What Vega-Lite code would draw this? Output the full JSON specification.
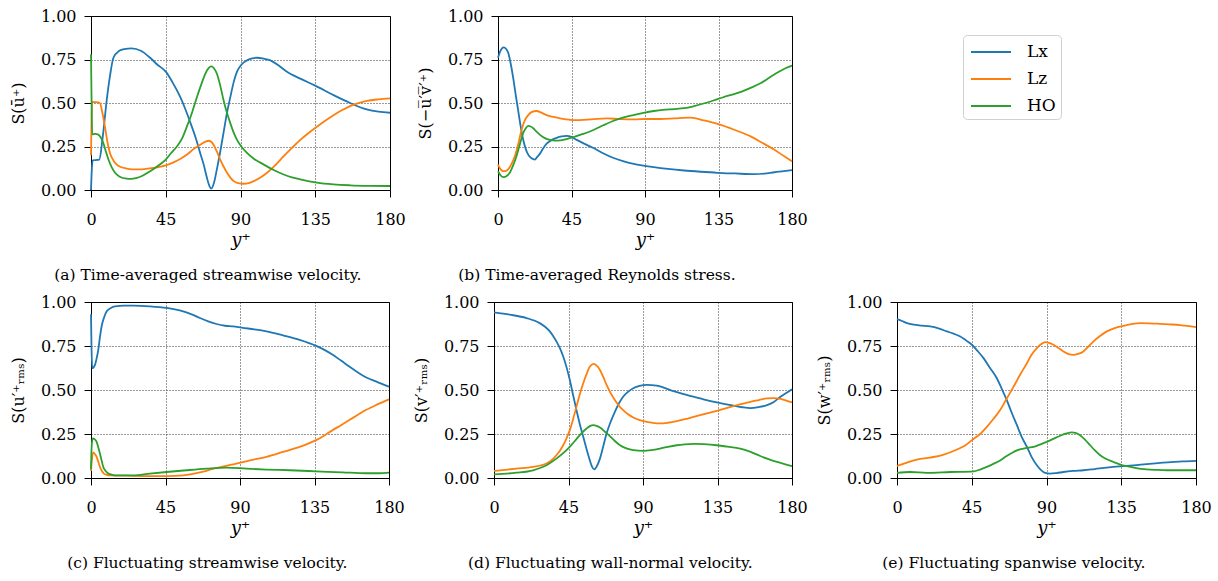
{
  "$schema": "https://vega.github.io/schema/vega-lite/v6.json",
  "padding": {"left": 9, "top": 7, "right": 5, "bottom": 5},
  "background": "white",
  "datasets": {
    "a": [
      {"x":0,"s":0,"m":"Lx"},{"x":0.5,"s":0.12,"m":"Lx"},{"x":1,"s":0.17,"m":"Lx"},{"x":3,"s":0.172,"m":"Lx"},{"x":5,"s":0.175,"m":"Lx"},{"x":7,"s":0.3,"m":"Lx"},{"x":9.5,"s":0.52,"m":"Lx"},{"x":11.5,"s":0.66,"m":"Lx"},{"x":13.5,"s":0.76,"m":"Lx"},{"x":17,"s":0.8,"m":"Lx"},{"x":20,"s":0.81,"m":"Lx"},{"x":24.5,"s":0.814,"m":"Lx"},{"x":30,"s":0.8,"m":"Lx"},{"x":35.6,"s":0.76,"m":"Lx"},{"x":40,"s":0.72,"m":"Lx"},{"x":45,"s":0.68,"m":"Lx"},{"x":49,"s":0.62,"m":"Lx"},{"x":53.7,"s":0.535,"m":"Lx"},{"x":57,"s":0.46,"m":"Lx"},{"x":59.7,"s":0.39,"m":"Lx"},{"x":63,"s":0.3,"m":"Lx"},{"x":65.8,"s":0.21,"m":"Lx"},{"x":68,"s":0.14,"m":"Lx"},{"x":69.8,"s":0.07,"m":"Lx"},{"x":71,"s":0.03,"m":"Lx"},{"x":72.4,"s":0.008,"m":"Lx"},{"x":74,"s":0.04,"m":"Lx"},{"x":75.8,"s":0.12,"m":"Lx"},{"x":77.8,"s":0.22,"m":"Lx"},{"x":79.8,"s":0.33,"m":"Lx"},{"x":81.8,"s":0.44,"m":"Lx"},{"x":83.9,"s":0.535,"m":"Lx"},{"x":85.9,"s":0.62,"m":"Lx"},{"x":87.9,"s":0.68,"m":"Lx"},{"x":90.5,"s":0.72,"m":"Lx"},{"x":93.9,"s":0.745,"m":"Lx"},{"x":97,"s":0.757,"m":"Lx"},{"x":100,"s":0.76,"m":"Lx"},{"x":104,"s":0.755,"m":"Lx"},{"x":108,"s":0.745,"m":"Lx"},{"x":113,"s":0.715,"m":"Lx"},{"x":118,"s":0.68,"m":"Lx"},{"x":126,"s":0.64,"m":"Lx"},{"x":135,"s":0.6,"m":"Lx"},{"x":146,"s":0.545,"m":"Lx"},{"x":156,"s":0.5,"m":"Lx"},{"x":166,"s":0.463,"m":"Lx"},{"x":173,"s":0.45,"m":"Lx"},{"x":180,"s":0.444,"m":"Lx"},
      {"x":0,"s":0.2,"m":"Lz"},{"x":0.3,"s":0.4,"m":"Lz"},{"x":0.6,"s":0.505,"m":"Lz"},{"x":3,"s":0.505,"m":"Lz"},{"x":5.4,"s":0.5,"m":"Lz"},{"x":6.5,"s":0.46,"m":"Lz"},{"x":8.4,"s":0.364,"m":"Lz"},{"x":10,"s":0.27,"m":"Lz"},{"x":11.5,"s":0.21,"m":"Lz"},{"x":13.5,"s":0.17,"m":"Lz"},{"x":15.5,"s":0.146,"m":"Lz"},{"x":18,"s":0.132,"m":"Lz"},{"x":21.5,"s":0.123,"m":"Lz"},{"x":25,"s":0.119,"m":"Lz"},{"x":29.6,"s":0.118,"m":"Lz"},{"x":33,"s":0.121,"m":"Lz"},{"x":37.6,"s":0.127,"m":"Lz"},{"x":45,"s":0.142,"m":"Lz"},{"x":50,"s":0.16,"m":"Lz"},{"x":53.7,"s":0.178,"m":"Lz"},{"x":58,"s":0.205,"m":"Lz"},{"x":61.7,"s":0.235,"m":"Lz"},{"x":66,"s":0.262,"m":"Lz"},{"x":69,"s":0.278,"m":"Lz"},{"x":70.8,"s":0.283,"m":"Lz"},{"x":72.3,"s":0.277,"m":"Lz"},{"x":73.8,"s":0.26,"m":"Lz"},{"x":75.8,"s":0.22,"m":"Lz"},{"x":77.8,"s":0.175,"m":"Lz"},{"x":79.8,"s":0.135,"m":"Lz"},{"x":81.9,"s":0.099,"m":"Lz"},{"x":84,"s":0.07,"m":"Lz"},{"x":85.9,"s":0.051,"m":"Lz"},{"x":88.5,"s":0.04,"m":"Lz"},{"x":91.9,"s":0.036,"m":"Lz"},{"x":95,"s":0.04,"m":"Lz"},{"x":98,"s":0.051,"m":"Lz"},{"x":102,"s":0.072,"m":"Lz"},{"x":106,"s":0.099,"m":"Lz"},{"x":111,"s":0.143,"m":"Lz"},{"x":116,"s":0.194,"m":"Lz"},{"x":121,"s":0.242,"m":"Lz"},{"x":126,"s":0.288,"m":"Lz"},{"x":131,"s":0.328,"m":"Lz"},{"x":136,"s":0.364,"m":"Lz"},{"x":141,"s":0.398,"m":"Lz"},{"x":146,"s":0.43,"m":"Lz"},{"x":151,"s":0.458,"m":"Lz"},{"x":156,"s":0.482,"m":"Lz"},{"x":161,"s":0.499,"m":"Lz"},{"x":166,"s":0.512,"m":"Lz"},{"x":173,"s":0.521,"m":"Lz"},{"x":180,"s":0.526,"m":"Lz"},
      {"x":0,"s":0.78,"m":"HO"},{"x":0.3,"s":0.55,"m":"HO"},{"x":0.7,"s":0.32,"m":"HO"},{"x":2.5,"s":0.322,"m":"HO"},{"x":4.4,"s":0.318,"m":"HO"},{"x":6,"s":0.3,"m":"HO"},{"x":7.4,"s":0.27,"m":"HO"},{"x":9,"s":0.22,"m":"HO"},{"x":10.5,"s":0.175,"m":"HO"},{"x":12.5,"s":0.13,"m":"HO"},{"x":14.5,"s":0.099,"m":"HO"},{"x":17,"s":0.078,"m":"HO"},{"x":21.5,"s":0.065,"m":"HO"},{"x":24,"s":0.064,"m":"HO"},{"x":27.6,"s":0.07,"m":"HO"},{"x":31,"s":0.082,"m":"HO"},{"x":35.6,"s":0.108,"m":"HO"},{"x":40,"s":0.137,"m":"HO"},{"x":45,"s":0.175,"m":"HO"},{"x":48,"s":0.21,"m":"HO"},{"x":51.7,"s":0.25,"m":"HO"},{"x":55,"s":0.3,"m":"HO"},{"x":57.7,"s":0.364,"m":"HO"},{"x":61,"s":0.45,"m":"HO"},{"x":63.8,"s":0.535,"m":"HO"},{"x":66.5,"s":0.61,"m":"HO"},{"x":68.8,"s":0.668,"m":"HO"},{"x":70.8,"s":0.7,"m":"HO"},{"x":72.4,"s":0.71,"m":"HO"},{"x":74,"s":0.7,"m":"HO"},{"x":75.8,"s":0.668,"m":"HO"},{"x":77.8,"s":0.6,"m":"HO"},{"x":79.8,"s":0.516,"m":"HO"},{"x":81.8,"s":0.445,"m":"HO"},{"x":83.9,"s":0.383,"m":"HO"},{"x":85.9,"s":0.33,"m":"HO"},{"x":87.9,"s":0.288,"m":"HO"},{"x":90.5,"s":0.25,"m":"HO"},{"x":93.9,"s":0.213,"m":"HO"},{"x":98,"s":0.18,"m":"HO"},{"x":104,"s":0.146,"m":"HO"},{"x":110,"s":0.115,"m":"HO"},{"x":116,"s":0.089,"m":"HO"},{"x":121,"s":0.073,"m":"HO"},{"x":126,"s":0.061,"m":"HO"},{"x":136,"s":0.042,"m":"HO"},{"x":146,"s":0.032,"m":"HO"},{"x":156,"s":0.027,"m":"HO"},{"x":168,"s":0.024,"m":"HO"},{"x":180,"s":0.023,"m":"HO"}
    ],
    "b": [
      {"x":0,"s":0.76,"m":"Lx"},{"x":1.5,"s":0.8,"m":"Lx"},{"x":3.5,"s":0.82,"m":"Lx"},{"x":5,"s":0.81,"m":"Lx"},{"x":6.2,"s":0.79,"m":"Lx"},{"x":7.7,"s":0.73,"m":"Lx"},{"x":9.2,"s":0.65,"m":"Lx"},{"x":10.8,"s":0.55,"m":"Lx"},{"x":12.3,"s":0.46,"m":"Lx"},{"x":13.8,"s":0.37,"m":"Lx"},{"x":15.4,"s":0.29,"m":"Lx"},{"x":17,"s":0.235,"m":"Lx"},{"x":18.5,"s":0.203,"m":"Lx"},{"x":20.5,"s":0.182,"m":"Lx"},{"x":22.6,"s":0.175,"m":"Lx"},{"x":24,"s":0.19,"m":"Lx"},{"x":25.7,"s":0.209,"m":"Lx"},{"x":27.7,"s":0.24,"m":"Lx"},{"x":29.8,"s":0.266,"m":"Lx"},{"x":33,"s":0.288,"m":"Lx"},{"x":35.9,"s":0.3,"m":"Lx"},{"x":39,"s":0.308,"m":"Lx"},{"x":42,"s":0.311,"m":"Lx"},{"x":45,"s":0.305,"m":"Lx"},{"x":48.2,"s":0.288,"m":"Lx"},{"x":53,"s":0.265,"m":"Lx"},{"x":58.5,"s":0.241,"m":"Lx"},{"x":64,"s":0.213,"m":"Lx"},{"x":70.8,"s":0.184,"m":"Lx"},{"x":77,"s":0.165,"m":"Lx"},{"x":83.1,"s":0.15,"m":"Lx"},{"x":89,"s":0.14,"m":"Lx"},{"x":95.4,"s":0.131,"m":"Lx"},{"x":104,"s":0.121,"m":"Lx"},{"x":113.9,"s":0.112,"m":"Lx"},{"x":124,"s":0.105,"m":"Lx"},{"x":134.4,"s":0.099,"m":"Lx"},{"x":145,"s":0.095,"m":"Lx"},{"x":157,"s":0.091,"m":"Lx"},{"x":163,"s":0.094,"m":"Lx"},{"x":169.3,"s":0.102,"m":"Lx"},{"x":175,"s":0.108,"m":"Lx"},{"x":180,"s":0.114,"m":"Lx"},
      {"x":0,"s":0.146,"m":"Lz"},{"x":1.5,"s":0.12,"m":"Lz"},{"x":3.1,"s":0.108,"m":"Lz"},{"x":4.5,"s":0.108,"m":"Lz"},{"x":6.2,"s":0.118,"m":"Lz"},{"x":8.3,"s":0.15,"m":"Lz"},{"x":10.3,"s":0.194,"m":"Lz"},{"x":12.3,"s":0.26,"m":"Lz"},{"x":14.4,"s":0.345,"m":"Lz"},{"x":16.4,"s":0.4,"m":"Lz"},{"x":18.5,"s":0.43,"m":"Lz"},{"x":20.5,"s":0.448,"m":"Lz"},{"x":23.6,"s":0.454,"m":"Lz"},{"x":26.5,"s":0.445,"m":"Lz"},{"x":29.8,"s":0.43,"m":"Lz"},{"x":34,"s":0.42,"m":"Lz"},{"x":38,"s":0.412,"m":"Lz"},{"x":43,"s":0.405,"m":"Lz"},{"x":48.2,"s":0.402,"m":"Lz"},{"x":57,"s":0.406,"m":"Lz"},{"x":66.7,"s":0.412,"m":"Lz"},{"x":75,"s":0.407,"m":"Lz"},{"x":83.1,"s":0.406,"m":"Lz"},{"x":91,"s":0.408,"m":"Lz"},{"x":99.5,"s":0.408,"m":"Lz"},{"x":108,"s":0.412,"m":"Lz"},{"x":118,"s":0.416,"m":"Lz"},{"x":126,"s":0.4,"m":"Lz"},{"x":134.4,"s":0.38,"m":"Lz"},{"x":145,"s":0.345,"m":"Lz"},{"x":155,"s":0.307,"m":"Lz"},{"x":162,"s":0.27,"m":"Lz"},{"x":169.3,"s":0.231,"m":"Lz"},{"x":175,"s":0.195,"m":"Lz"},{"x":180,"s":0.165,"m":"Lz"},
      {"x":0,"s":0.108,"m":"HO"},{"x":1.5,"s":0.085,"m":"HO"},{"x":3.5,"s":0.074,"m":"HO"},{"x":5.3,"s":0.08,"m":"HO"},{"x":7.2,"s":0.099,"m":"HO"},{"x":9.2,"s":0.14,"m":"HO"},{"x":11.3,"s":0.194,"m":"HO"},{"x":13.3,"s":0.26,"m":"HO"},{"x":15.4,"s":0.326,"m":"HO"},{"x":17,"s":0.355,"m":"HO"},{"x":18.5,"s":0.368,"m":"HO"},{"x":20,"s":0.365,"m":"HO"},{"x":21.6,"s":0.355,"m":"HO"},{"x":23.6,"s":0.335,"m":"HO"},{"x":25.7,"s":0.317,"m":"HO"},{"x":28.7,"s":0.298,"m":"HO"},{"x":31.8,"s":0.288,"m":"HO"},{"x":35,"s":0.284,"m":"HO"},{"x":38,"s":0.285,"m":"HO"},{"x":42,"s":0.293,"m":"HO"},{"x":46.2,"s":0.304,"m":"HO"},{"x":52,"s":0.322,"m":"HO"},{"x":58.5,"s":0.345,"m":"HO"},{"x":64.5,"s":0.372,"m":"HO"},{"x":70.8,"s":0.398,"m":"HO"},{"x":77,"s":0.418,"m":"HO"},{"x":83.1,"s":0.431,"m":"HO"},{"x":89,"s":0.443,"m":"HO"},{"x":95.4,"s":0.454,"m":"HO"},{"x":101,"s":0.461,"m":"HO"},{"x":107.8,"s":0.465,"m":"HO"},{"x":114,"s":0.47,"m":"HO"},{"x":120,"s":0.482,"m":"HO"},{"x":127,"s":0.5,"m":"HO"},{"x":134.4,"s":0.522,"m":"HO"},{"x":141,"s":0.542,"m":"HO"},{"x":148.8,"s":0.564,"m":"HO"},{"x":155,"s":0.588,"m":"HO"},{"x":161,"s":0.615,"m":"HO"},{"x":166,"s":0.645,"m":"HO"},{"x":171.4,"s":0.677,"m":"HO"},{"x":176,"s":0.7,"m":"HO"},{"x":180,"s":0.715,"m":"HO"}
    ],
    "c": [
      {"x":0,"s":0.93,"m":"Lx"},{"x":0.3,"s":0.75,"m":"Lx"},{"x":0.7,"s":0.624,"m":"Lx"},{"x":2.4,"s":0.643,"m":"Lx"},{"x":3.4,"s":0.68,"m":"Lx"},{"x":4.4,"s":0.728,"m":"Lx"},{"x":5.4,"s":0.8,"m":"Lx"},{"x":6.4,"s":0.861,"m":"Lx"},{"x":8,"s":0.915,"m":"Lx"},{"x":9.5,"s":0.947,"m":"Lx"},{"x":12,"s":0.966,"m":"Lx"},{"x":14.5,"s":0.975,"m":"Lx"},{"x":20,"s":0.979,"m":"Lx"},{"x":25.5,"s":0.979,"m":"Lx"},{"x":35.6,"s":0.975,"m":"Lx"},{"x":45.7,"s":0.966,"m":"Lx"},{"x":50.7,"s":0.958,"m":"Lx"},{"x":55.7,"s":0.947,"m":"Lx"},{"x":60.8,"s":0.93,"m":"Lx"},{"x":65.8,"s":0.909,"m":"Lx"},{"x":70.8,"s":0.89,"m":"Lx"},{"x":75.8,"s":0.875,"m":"Lx"},{"x":80.9,"s":0.865,"m":"Lx"},{"x":85.9,"s":0.861,"m":"Lx"},{"x":91,"s":0.855,"m":"Lx"},{"x":96,"s":0.848,"m":"Lx"},{"x":106,"s":0.833,"m":"Lx"},{"x":116,"s":0.81,"m":"Lx"},{"x":126,"s":0.785,"m":"Lx"},{"x":136,"s":0.751,"m":"Lx"},{"x":141,"s":0.728,"m":"Lx"},{"x":146,"s":0.7,"m":"Lx"},{"x":151,"s":0.667,"m":"Lx"},{"x":156,"s":0.633,"m":"Lx"},{"x":161,"s":0.601,"m":"Lx"},{"x":166,"s":0.572,"m":"Lx"},{"x":173,"s":0.545,"m":"Lx"},{"x":180,"s":0.519,"m":"Lx"},
      {"x":0,"s":0.04,"m":"Lz"},{"x":0.5,"s":0.1,"m":"Lz"},{"x":1.5,"s":0.145,"m":"Lz"},{"x":2.4,"s":0.135,"m":"Lz"},{"x":3.4,"s":0.12,"m":"Lz"},{"x":4.4,"s":0.092,"m":"Lz"},{"x":5.4,"s":0.063,"m":"Lz"},{"x":6.6,"s":0.04,"m":"Lz"},{"x":7.8,"s":0.025,"m":"Lz"},{"x":9.5,"s":0.018,"m":"Lz"},{"x":11.5,"s":0.015,"m":"Lz"},{"x":21.5,"s":0.013,"m":"Lz"},{"x":35.6,"s":0.011,"m":"Lz"},{"x":45.7,"s":0.011,"m":"Lz"},{"x":55.7,"s":0.015,"m":"Lz"},{"x":60.8,"s":0.022,"m":"Lz"},{"x":65.8,"s":0.032,"m":"Lz"},{"x":70.8,"s":0.044,"m":"Lz"},{"x":75.8,"s":0.057,"m":"Lz"},{"x":80.9,"s":0.068,"m":"Lz"},{"x":85.9,"s":0.078,"m":"Lz"},{"x":91,"s":0.089,"m":"Lz"},{"x":96,"s":0.1,"m":"Lz"},{"x":106,"s":0.12,"m":"Lz"},{"x":116,"s":0.148,"m":"Lz"},{"x":126,"s":0.177,"m":"Lz"},{"x":136,"s":0.215,"m":"Lz"},{"x":141,"s":0.242,"m":"Lz"},{"x":146,"s":0.272,"m":"Lz"},{"x":151,"s":0.3,"m":"Lz"},{"x":156,"s":0.329,"m":"Lz"},{"x":161,"s":0.358,"m":"Lz"},{"x":166,"s":0.386,"m":"Lz"},{"x":173,"s":0.418,"m":"Lz"},{"x":180,"s":0.447,"m":"Lz"},
      {"x":0,"s":0.05,"m":"HO"},{"x":0.4,"s":0.18,"m":"HO"},{"x":1,"s":0.225,"m":"HO"},{"x":2.2,"s":0.22,"m":"HO"},{"x":3.4,"s":0.205,"m":"HO"},{"x":4.4,"s":0.175,"m":"HO"},{"x":5.4,"s":0.139,"m":"HO"},{"x":6.4,"s":0.1,"m":"HO"},{"x":7.4,"s":0.063,"m":"HO"},{"x":9,"s":0.038,"m":"HO"},{"x":10.5,"s":0.025,"m":"HO"},{"x":13,"s":0.018,"m":"HO"},{"x":15.5,"s":0.015,"m":"HO"},{"x":25.5,"s":0.015,"m":"HO"},{"x":35.6,"s":0.025,"m":"HO"},{"x":45.7,"s":0.034,"m":"HO"},{"x":57.7,"s":0.044,"m":"HO"},{"x":69.8,"s":0.053,"m":"HO"},{"x":81.9,"s":0.059,"m":"HO"},{"x":93.9,"s":0.053,"m":"HO"},{"x":106,"s":0.048,"m":"HO"},{"x":120,"s":0.044,"m":"HO"},{"x":136,"s":0.038,"m":"HO"},{"x":152,"s":0.032,"m":"HO"},{"x":166,"s":0.027,"m":"HO"},{"x":174,"s":0.027,"m":"HO"},{"x":180,"s":0.03,"m":"HO"}
    ],
    "d": [
      {"x":0,"s":0.941,"m":"Lx"},{"x":9.5,"s":0.928,"m":"Lx"},{"x":19.6,"s":0.909,"m":"Lx"},{"x":27.6,"s":0.88,"m":"Lx"},{"x":31,"s":0.858,"m":"Lx"},{"x":33.7,"s":0.833,"m":"Lx"},{"x":35.8,"s":0.806,"m":"Lx"},{"x":37.7,"s":0.776,"m":"Lx"},{"x":39.8,"s":0.738,"m":"Lx"},{"x":41.8,"s":0.69,"m":"Lx"},{"x":43.8,"s":0.63,"m":"Lx"},{"x":45.8,"s":0.557,"m":"Lx"},{"x":47.8,"s":0.47,"m":"Lx"},{"x":49.8,"s":0.386,"m":"Lx"},{"x":51.8,"s":0.307,"m":"Lx"},{"x":53.9,"s":0.234,"m":"Lx"},{"x":55.9,"s":0.165,"m":"Lx"},{"x":57.9,"s":0.1,"m":"Lx"},{"x":59.2,"s":0.065,"m":"Lx"},{"x":60.5,"s":0.049,"m":"Lx"},{"x":62,"s":0.065,"m":"Lx"},{"x":64,"s":0.11,"m":"Lx"},{"x":66,"s":0.18,"m":"Lx"},{"x":68,"s":0.253,"m":"Lx"},{"x":70.5,"s":0.32,"m":"Lx"},{"x":73,"s":0.376,"m":"Lx"},{"x":75.5,"s":0.425,"m":"Lx"},{"x":78,"s":0.462,"m":"Lx"},{"x":81,"s":0.49,"m":"Lx"},{"x":84.1,"s":0.51,"m":"Lx"},{"x":88,"s":0.524,"m":"Lx"},{"x":92.2,"s":0.529,"m":"Lx"},{"x":98.3,"s":0.525,"m":"Lx"},{"x":103,"s":0.512,"m":"Lx"},{"x":108.4,"s":0.494,"m":"Lx"},{"x":114,"s":0.478,"m":"Lx"},{"x":120.5,"s":0.462,"m":"Lx"},{"x":127,"s":0.446,"m":"Lx"},{"x":134.6,"s":0.43,"m":"Lx"},{"x":144.7,"s":0.411,"m":"Lx"},{"x":150,"s":0.402,"m":"Lx"},{"x":154.8,"s":0.397,"m":"Lx"},{"x":160,"s":0.403,"m":"Lx"},{"x":164.9,"s":0.414,"m":"Lx"},{"x":169,"s":0.432,"m":"Lx"},{"x":173,"s":0.462,"m":"Lx"},{"x":176.5,"s":0.483,"m":"Lx"},{"x":180,"s":0.504,"m":"Lx"},
      {"x":0,"s":0.04,"m":"Lz"},{"x":13.5,"s":0.053,"m":"Lz"},{"x":23.6,"s":0.063,"m":"Lz"},{"x":31.7,"s":0.082,"m":"Lz"},{"x":35,"s":0.102,"m":"Lz"},{"x":37.7,"s":0.129,"m":"Lz"},{"x":39.8,"s":0.155,"m":"Lz"},{"x":41.8,"s":0.186,"m":"Lz"},{"x":43.8,"s":0.225,"m":"Lz"},{"x":45.8,"s":0.272,"m":"Lz"},{"x":47.8,"s":0.335,"m":"Lz"},{"x":49.8,"s":0.405,"m":"Lz"},{"x":51.8,"s":0.475,"m":"Lz"},{"x":53.9,"s":0.538,"m":"Lz"},{"x":55.9,"s":0.59,"m":"Lz"},{"x":57.9,"s":0.633,"m":"Lz"},{"x":59.2,"s":0.645,"m":"Lz"},{"x":60.5,"s":0.648,"m":"Lz"},{"x":62,"s":0.638,"m":"Lz"},{"x":64,"s":0.614,"m":"Lz"},{"x":66,"s":0.574,"m":"Lz"},{"x":68,"s":0.529,"m":"Lz"},{"x":70.5,"s":0.482,"m":"Lz"},{"x":73,"s":0.443,"m":"Lz"},{"x":75.5,"s":0.41,"m":"Lz"},{"x":78,"s":0.386,"m":"Lz"},{"x":81,"s":0.362,"m":"Lz"},{"x":84.1,"s":0.344,"m":"Lz"},{"x":88,"s":0.329,"m":"Lz"},{"x":92.2,"s":0.319,"m":"Lz"},{"x":96,"s":0.313,"m":"Lz"},{"x":100.3,"s":0.31,"m":"Lz"},{"x":105,"s":0.314,"m":"Lz"},{"x":110.4,"s":0.323,"m":"Lz"},{"x":117,"s":0.338,"m":"Lz"},{"x":124.5,"s":0.357,"m":"Lz"},{"x":134.6,"s":0.382,"m":"Lz"},{"x":144.7,"s":0.409,"m":"Lz"},{"x":154.8,"s":0.433,"m":"Lz"},{"x":160,"s":0.443,"m":"Lz"},{"x":164.9,"s":0.452,"m":"Lz"},{"x":169,"s":0.454,"m":"Lz"},{"x":173,"s":0.449,"m":"Lz"},{"x":176.5,"s":0.44,"m":"Lz"},{"x":180,"s":0.43,"m":"Lz"},
      {"x":0,"s":0.021,"m":"HO"},{"x":13.5,"s":0.03,"m":"HO"},{"x":23.6,"s":0.044,"m":"HO"},{"x":31.7,"s":0.072,"m":"HO"},{"x":37.7,"s":0.11,"m":"HO"},{"x":43.8,"s":0.158,"m":"HO"},{"x":46.8,"s":0.188,"m":"HO"},{"x":49.8,"s":0.221,"m":"HO"},{"x":52.8,"s":0.253,"m":"HO"},{"x":55.9,"s":0.281,"m":"HO"},{"x":57.9,"s":0.295,"m":"HO"},{"x":59.9,"s":0.3,"m":"HO"},{"x":62,"s":0.296,"m":"HO"},{"x":64,"s":0.287,"m":"HO"},{"x":67,"s":0.263,"m":"HO"},{"x":70,"s":0.238,"m":"HO"},{"x":73,"s":0.21,"m":"HO"},{"x":76.1,"s":0.186,"m":"HO"},{"x":80,"s":0.168,"m":"HO"},{"x":84.1,"s":0.158,"m":"HO"},{"x":90.2,"s":0.154,"m":"HO"},{"x":95,"s":0.158,"m":"HO"},{"x":100.3,"s":0.167,"m":"HO"},{"x":105,"s":0.177,"m":"HO"},{"x":110.4,"s":0.186,"m":"HO"},{"x":115,"s":0.191,"m":"HO"},{"x":120.5,"s":0.194,"m":"HO"},{"x":127,"s":0.192,"m":"HO"},{"x":134.6,"s":0.186,"m":"HO"},{"x":141,"s":0.178,"m":"HO"},{"x":148.7,"s":0.167,"m":"HO"},{"x":155,"s":0.148,"m":"HO"},{"x":160.8,"s":0.125,"m":"HO"},{"x":165,"s":0.11,"m":"HO"},{"x":170.9,"s":0.091,"m":"HO"},{"x":175,"s":0.08,"m":"HO"},{"x":180,"s":0.068,"m":"HO"}
    ],
    "e": [
      {"x":0,"s":0.903,"m":"Lx"},{"x":3,"s":0.892,"m":"Lx"},{"x":6,"s":0.88,"m":"Lx"},{"x":10,"s":0.871,"m":"Lx"},{"x":15,"s":0.866,"m":"Lx"},{"x":20,"s":0.861,"m":"Lx"},{"x":25,"s":0.85,"m":"Lx"},{"x":30,"s":0.833,"m":"Lx"},{"x":34,"s":0.82,"m":"Lx"},{"x":38.1,"s":0.804,"m":"Lx"},{"x":41.5,"s":0.782,"m":"Lx"},{"x":45.1,"s":0.757,"m":"Lx"},{"x":48.5,"s":0.722,"m":"Lx"},{"x":52.1,"s":0.681,"m":"Lx"},{"x":56,"s":0.625,"m":"Lx"},{"x":60.1,"s":0.567,"m":"Lx"},{"x":63,"s":0.508,"m":"Lx"},{"x":66.1,"s":0.443,"m":"Lx"},{"x":69,"s":0.372,"m":"Lx"},{"x":72.2,"s":0.3,"m":"Lx"},{"x":75,"s":0.235,"m":"Lx"},{"x":78.2,"s":0.177,"m":"Lx"},{"x":81,"s":0.12,"m":"Lx"},{"x":84.2,"s":0.072,"m":"Lx"},{"x":86.7,"s":0.045,"m":"Lx"},{"x":89.2,"s":0.029,"m":"Lx"},{"x":92.2,"s":0.025,"m":"Lx"},{"x":96,"s":0.028,"m":"Lx"},{"x":100.2,"s":0.034,"m":"Lx"},{"x":106,"s":0.04,"m":"Lx"},{"x":112.2,"s":0.044,"m":"Lx"},{"x":119,"s":0.051,"m":"Lx"},{"x":126.3,"s":0.059,"m":"Lx"},{"x":134,"s":0.066,"m":"Lx"},{"x":142.3,"s":0.072,"m":"Lx"},{"x":150,"s":0.079,"m":"Lx"},{"x":158.3,"s":0.086,"m":"Lx"},{"x":165,"s":0.09,"m":"Lx"},{"x":172,"s":0.094,"m":"Lx"},{"x":180,"s":0.097,"m":"Lx"},
      {"x":0,"s":0.068,"m":"Lz"},{"x":6,"s":0.087,"m":"Lz"},{"x":12,"s":0.105,"m":"Lz"},{"x":20,"s":0.116,"m":"Lz"},{"x":28.1,"s":0.133,"m":"Lz"},{"x":36.1,"s":0.162,"m":"Lz"},{"x":41,"s":0.185,"m":"Lz"},{"x":45.1,"s":0.215,"m":"Lz"},{"x":50,"s":0.25,"m":"Lz"},{"x":54.1,"s":0.291,"m":"Lz"},{"x":58,"s":0.335,"m":"Lz"},{"x":62.1,"s":0.386,"m":"Lz"},{"x":66,"s":0.45,"m":"Lz"},{"x":70.2,"s":0.519,"m":"Lz"},{"x":74,"s":0.585,"m":"Lz"},{"x":78.2,"s":0.652,"m":"Lz"},{"x":81,"s":0.7,"m":"Lz"},{"x":84.2,"s":0.738,"m":"Lz"},{"x":86.7,"s":0.76,"m":"Lz"},{"x":89.2,"s":0.772,"m":"Lz"},{"x":91.5,"s":0.768,"m":"Lz"},{"x":94.2,"s":0.757,"m":"Lz"},{"x":97,"s":0.74,"m":"Lz"},{"x":100.2,"s":0.719,"m":"Lz"},{"x":103,"s":0.705,"m":"Lz"},{"x":106.2,"s":0.7,"m":"Lz"},{"x":109,"s":0.705,"m":"Lz"},{"x":112.2,"s":0.719,"m":"Lz"},{"x":115,"s":0.745,"m":"Lz"},{"x":118.3,"s":0.776,"m":"Lz"},{"x":122,"s":0.805,"m":"Lz"},{"x":126.3,"s":0.833,"m":"Lz"},{"x":131,"s":0.852,"m":"Lz"},{"x":136.3,"s":0.865,"m":"Lz"},{"x":141,"s":0.874,"m":"Lz"},{"x":146.3,"s":0.88,"m":"Lz"},{"x":152,"s":0.879,"m":"Lz"},{"x":158.3,"s":0.876,"m":"Lz"},{"x":164,"s":0.873,"m":"Lz"},{"x":170.4,"s":0.869,"m":"Lz"},{"x":175,"s":0.864,"m":"Lz"},{"x":180,"s":0.857,"m":"Lz"},
      {"x":0,"s":0.029,"m":"HO"},{"x":8,"s":0.034,"m":"HO"},{"x":18,"s":0.029,"m":"HO"},{"x":32.1,"s":0.034,"m":"HO"},{"x":46.1,"s":0.038,"m":"HO"},{"x":50,"s":0.048,"m":"HO"},{"x":54.1,"s":0.063,"m":"HO"},{"x":58,"s":0.08,"m":"HO"},{"x":62.1,"s":0.1,"m":"HO"},{"x":66,"s":0.125,"m":"HO"},{"x":70.2,"s":0.148,"m":"HO"},{"x":73,"s":0.16,"m":"HO"},{"x":76.2,"s":0.167,"m":"HO"},{"x":79,"s":0.172,"m":"HO"},{"x":82.2,"s":0.177,"m":"HO"},{"x":86,"s":0.19,"m":"HO"},{"x":90.2,"s":0.205,"m":"HO"},{"x":94,"s":0.222,"m":"HO"},{"x":98.2,"s":0.24,"m":"HO"},{"x":102,"s":0.253,"m":"HO"},{"x":105.2,"s":0.259,"m":"HO"},{"x":107.5,"s":0.256,"m":"HO"},{"x":110.2,"s":0.243,"m":"HO"},{"x":113,"s":0.22,"m":"HO"},{"x":116.3,"s":0.186,"m":"HO"},{"x":119,"s":0.158,"m":"HO"},{"x":122.3,"s":0.129,"m":"HO"},{"x":126,"s":0.108,"m":"HO"},{"x":130.3,"s":0.091,"m":"HO"},{"x":134,"s":0.078,"m":"HO"},{"x":138.3,"s":0.067,"m":"HO"},{"x":144,"s":0.056,"m":"HO"},{"x":150.3,"s":0.049,"m":"HO"},{"x":156,"s":0.046,"m":"HO"},{"x":162.4,"s":0.044,"m":"HO"},{"x":170,"s":0.044,"m":"HO"},{"x":180,"s":0.044,"m":"HO"}
    ]
  },
  "vconcat": [
    {
      "hconcat": [
        {
          "width": 299, "height": 174,
          "data": {"name": "a"},
          "title": {"text": "(a) Time-averaged streamwise velocity.", "fontSize": 15.5, "offset": 19, "frame": "bounds"},
          "mark": {"type": "line", "interpolate": "monotone", "strokeWidth": 1.8},
          "encoding": {
            "x": {"field": "x", "type": "quantitative", "scale": {"domain": [0, 180], "nice": false}, "axis": {"values": [0, 45, 90, 135, 180], "title": "y⁺"}},
            "y": {"field": "s", "type": "quantitative", "scale": {"domain": [0, 1]}, "axis": {"values": [0, 0.25, 0.5, 0.75, 1], "format": ".2f", "title": "S(ū⁺)"}},
            "color": {"field": "m", "type": "nominal", "scale": {"domain": ["Lx", "Lz", "HO"], "range": ["#1f77b4", "#ff7f0e", "#2ca02c"]}, "legend": null}
          }
        },
        {
          "width": 294, "height": 174,
          "data": {"name": "b"},
          "title": {"text": "(b) Time-averaged Reynolds stress.", "fontSize": 15.5, "offset": 19, "frame": "group", "dx": -48},
          "mark": {"type": "line", "interpolate": "monotone", "strokeWidth": 1.8},
          "encoding": {
            "x": {"field": "x", "type": "quantitative", "scale": {"domain": [0, 180], "nice": false}, "axis": {"values": [0, 45, 90, 135, 180], "title": "y⁺"}},
            "y": {"field": "s", "type": "quantitative", "scale": {"domain": [0, 1]}, "axis": {"values": [0, 0.25, 0.5, 0.75, 1], "format": ".2f", "title": "S(−u̅′v̅′⁺)"}},
            "color": {"field": "m", "type": "nominal", "scale": {"domain": ["Lx", "Lz", "HO"], "range": ["#1f77b4", "#ff7f0e", "#2ca02c"]},
              "legend": {"orient": "none", "legendX": 465, "legendY": 19, "title": null, "symbolType": "M-0.82,0L2.82,0", "symbolSize": 484, "symbolStrokeWidth": 2, "labelFontSize": 17, "labelFont": "DejaVu Serif", "labelColor": "black", "strokeColor": "#d0d0d0", "cornerRadius": 4, "padding": 5, "fillColor": "white", "rowPadding": 7, "labelOffset": 35}}
          }
        }
      ],
      "spacing": 108,
      "bounds": "flush",
      "resolve": {"legend": {"color": "independent"}}
    },
    {
      "hconcat": [
        {
          "width": 298, "height": 176,
          "data": {"name": "c"},
          "title": {"text": "(c) Fluctuating streamwise velocity.", "fontSize": 15.5, "offset": 19, "frame": "bounds"},
          "mark": {"type": "line", "interpolate": "monotone", "strokeWidth": 1.8},
          "encoding": {
            "x": {"field": "x", "type": "quantitative", "scale": {"domain": [0, 180], "nice": false}, "axis": {"values": [0, 45, 90, 135, 180], "title": "y⁺"}},
            "y": {"field": "s", "type": "quantitative", "scale": {"domain": [0, 1]}, "axis": {"values": [0, 0.25, 0.5, 0.75, 1], "format": ".2f", "title": "S(u′⁺ᵣₘₛ)"}},
            "color": {"field": "m", "type": "nominal", "scale": {"domain": ["Lx", "Lz", "HO"], "range": ["#1f77b4", "#ff7f0e", "#2ca02c"]}, "legend": null}
          }
        },
        {
          "width": 298, "height": 176,
          "data": {"name": "d"},
          "title": {"text": "(d) Fluctuating wall-normal velocity.", "fontSize": 15.5, "offset": 19, "frame": "bounds"},
          "mark": {"type": "line", "interpolate": "monotone", "strokeWidth": 1.8},
          "encoding": {
            "x": {"field": "x", "type": "quantitative", "scale": {"domain": [0, 180], "nice": false}, "axis": {"values": [0, 45, 90, 135, 180], "title": "y⁺"}},
            "y": {"field": "s", "type": "quantitative", "scale": {"domain": [0, 1]}, "axis": {"values": [0, 0.25, 0.5, 0.75, 1], "format": ".2f", "title": "S(v′⁺ᵣₘₛ)"}},
            "color": {"field": "m", "type": "nominal", "scale": {"domain": ["Lx", "Lz", "HO"], "range": ["#1f77b4", "#ff7f0e", "#2ca02c"]}, "legend": null}
          }
        },
        {
          "width": 299, "height": 176,
          "data": {"name": "e"},
          "title": {"text": "(e) Fluctuating spanwise velocity.", "fontSize": 15.5, "offset": 19, "frame": "bounds"},
          "mark": {"type": "line", "interpolate": "monotone", "strokeWidth": 1.8},
          "encoding": {
            "x": {"field": "x", "type": "quantitative", "scale": {"domain": [0, 180], "nice": false}, "axis": {"values": [0, 45, 90, 135, 180], "title": "y⁺"}},
            "y": {"field": "s", "type": "quantitative", "scale": {"domain": [0, 1]}, "axis": {"values": [0, 0.25, 0.5, 0.75, 1], "format": ".2f", "title": "S(w′⁺ᵣₘₛ)"}},
            "color": {"field": "m", "type": "nominal", "scale": {"domain": ["Lx", "Lz", "HO"], "range": ["#1f77b4", "#ff7f0e", "#2ca02c"]}, "legend": null}
          }
        }
      ],
      "spacing": 105,
      "bounds": "flush",
      "resolve": {"legend": {"color": "independent"}}
    }
  ],
  "spacing": 9,
  "resolve": {"legend": {"color": "independent"}},
  "config": {
    "font": "DejaVu Serif",
    "view": {"stroke": "black", "strokeWidth": 1},
    "axis": {"domainColor": "black", "domainWidth": 1, "tickColor": "black", "tickSize": 7, "tickWidth": 1, "labelColor": "black", "labelFontSize": 16, "labelFont": "DejaVu Serif", "titleFont": "DejaVu Serif", "titleFontWeight": "normal", "titleColor": "black", "gridColor": "black", "gridDash": [1, 2], "gridWidth": 0.8, "gridOpacity": 1, "labelOverlap": false, "labelFlush": false},
    "axisX": {"labelPadding": 14, "titleFontSize": 18, "titleFontStyle": "italic", "titlePadding": 4},
    "axisY": {"labelPadding": 8, "titleFontSize": 16, "titlePadding": 14},
    "title": {"orient": "bottom", "fontSize": 15.5, "fontWeight": "normal", "font": "DejaVu Serif", "color": "black", "offset": 19, "anchor": "middle", "frame": "bounds"}
  }
}
